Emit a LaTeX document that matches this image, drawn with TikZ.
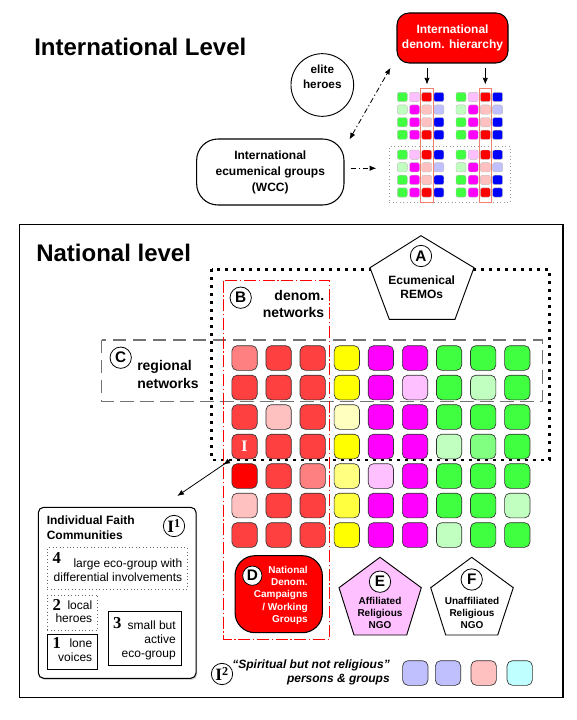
\documentclass[tikz,border=0pt]{standalone}
\usepackage{fontspec}
\setmainfont{Liberation Sans}
\newfontfamily\serifnum{Liberation Serif}
\usepackage{tikz}
\usetikzlibrary{positioning,arrows.meta,calc,shadows}
\usepackage{xcolor}
\definecolor{redA}{HTML}{FF4040}
\definecolor{redL}{HTML}{FF8080}
\definecolor{redP}{HTML}{FFC0C0}
\definecolor{redF}{HTML}{FF0000}
\definecolor{yelA}{HTML}{FFFF00}
\definecolor{yelM}{HTML}{FFFF40}
\definecolor{yelL}{HTML}{FFFF80}
\definecolor{yelP}{HTML}{FFFFC0}
\definecolor{magA}{HTML}{FF00FF}
\definecolor{magP}{HTML}{FFC0FF}
\definecolor{grnA}{HTML}{40FF40}
\definecolor{grnL}{HTML}{80FF80}
\definecolor{grnP}{HTML}{C0FFC0}
\definecolor{bluA}{HTML}{0000FF}
\definecolor{bluP}{HTML}{C0C0FF}
\definecolor{cyaP}{HTML}{C0FFFF}
\definecolor{salmon}{HTML}{F08070}

\begin{document}
\begin{tikzpicture}[x=0.75pt, y=-0.75pt, >=Latex,
    cell/.style={draw=black!80, line width=0.5pt, rounded corners=4pt, minimum width=19pt, minimum height=18.5pt, inner sep=0pt},
    mini/.style={draw=black!25, line width=0.3pt, rounded corners=1.5pt, minimum width=7.5pt, minimum height=7pt, inner sep=0pt},
    tag/.style={circle, draw, fill=white, line width=0.6pt, inner sep=0pt, minimum size=16pt, font=\bfseries\fontsize{11.5}{12}\selectfont},
    itag/.style={tag, font=\serifnum\bfseries\fontsize{13}{13}\selectfont},
    lbl/.style={font=\bfseries\fontsize{9}{10.8}\selectfont, align=center, inner sep=0pt},
    biglbl/.style={font=\bfseries\fontsize{10.5}{13}\selectfont, inner sep=0pt},
    bodytxt/.style={font=\fontsize{9}{10.5}\selectfont, align=right, anchor=east, inner sep=0pt},
    num/.style={font=\serifnum\bfseries\fontsize{12.5}{12.5}\selectfont, inner sep=0pt},
    heading/.style={font=\bfseries\fontsize{18}{20}\selectfont, anchor=base west, inner sep=0pt},
    dashdot/.style={dash pattern=on 4pt off 2pt on 1pt off 2pt},
    arr/.style={-{Latex[length=5pt,width=4pt]}, line width=0.6pt}]
  \useasboundingbox (0,0) rectangle (576,720);

  % international level
  \node[heading] (intlhead) at (34,56) {International Level};
  \node[circle, draw, line width=0.7pt, minimum size=47pt] (elite) at (322.3,85) {};
  \node[lbl, font=\bfseries\fontsize{8.8}{11.2}\selectfont] at (322.3,77) {elite\\heroes};
  \node[draw, fill=redF, rounded corners=9pt, line width=0.8pt, minimum width=83.25pt, minimum height=37.5pt,
        lbl, text=white, font=\bfseries\fontsize{9}{10.8}\selectfont] (intl) at (452.5,38) {International\\denom. hierarchy};
  \node[draw, rounded corners=16pt, line width=0.8pt, minimum width=110.5pt, minimum height=49.5pt,
        lbl, font=\bfseries\fontsize{9}{12}\selectfont] (wcc) at (270.3,172) {International\\ecumenical groups\\(WCC)};

  \node[draw=black!40, dotted, line width=0.6pt, minimum width=90.5pt, minimum height=41.7pt, inner sep=0pt] (wccgrid) at (449.7,174.5) {};
  \foreach \blk in {0,1}
    \foreach \half in {0,1}
      \foreach \rowcols [count=\r] in {{grnA,magP,redF,bluA},{grnP,magA,redP,bluP},{grnA,magA,redP,bluA},{grnA,magA,redF,bluA}}
        \foreach \col [count=\k] in \rowcols
          \node[mini, fill=\col] (m-\blk-\half-\r-\k) at ({402.3+12.2*(\k-1)+58.7*\blk}, {97+12.6*(\r-1)+57.7*\half}) {};
  \node[draw=salmon, line width=0.6pt, minimum width=9.5pt, minimum height=85.5pt, inner sep=0pt] (hier1) at (427,145.3) {};
  \node[draw=salmon, line width=0.6pt, minimum width=9.5pt, minimum height=85.5pt, inner sep=0pt] (hier2) at (485.3,145.3) {};

  \draw[arr] ([yshift=-3pt]intl.south -| hier1.north) -- ([yshift=2.5pt]hier1.north);
  \draw[arr] ([yshift=-3pt]intl.south -| hier2.north) -- ([yshift=2.5pt]hier2.north);
  \draw[dashdot, {Latex[length=5pt,width=4pt]}-{Latex[length=5pt,width=4pt]}, line width=0.6pt]
    ([xshift=3.75pt,yshift=-0.75pt]wcc.north east) -- ([xshift=-4.5pt,yshift=-3.2pt]intl.south west);
  \draw[dashdot, arr] ([xshift=4.5pt,yshift=2.8pt]wcc.east) -- ([xshift=-9.5pt,yshift=2.8pt]wcc.east -| wccgrid.west);

  % national level
  \draw[line width=0.9pt] (19.3,224.3) rectangle (563,697.7);
  \node[heading] (nathead) at (36,261.7) {National level};

  \draw[black!55, line width=1.1pt, dash pattern=on 10pt off 5pt] (101.7,340) rectangle (542.3,401.5);
  \draw[line width=2pt, dash pattern=on 2.2pt off 3.8pt] (211.7,269.3) rectangle (549.3,460);
  \draw[red, line width=0.6pt, dash pattern=on 9pt off 2pt on 1pt off 2pt] (223.3,280.7) rectangle (329.3,639);

  \foreach \rowcols [count=\r] in {
      {redL,redA,redA,yelA,magA,magA,grnA,grnA,grnA},
      {redA,redA,redA,yelA,magA,magP,grnA,grnP,grnA},
      {redA,redP,redA,yelP,magA,magA,grnA,grnA,grnA},
      {redA,redA,redA,yelA,magA,magA,grnP,grnL,grnA},
      {redF,redA,redL,yelL,magP,magA,grnA,grnA,grnA},
      {redP,redA,redA,yelM,magA,magA,grnA,grnA,grnP},
      {redA,redA,redA,yelA,magA,magA,grnP,grnA,grnA}}
    \foreach \col [count=\k] in \rowcols
      \node[cell, fill=\col] (n-\r-\k) at ({244.5+34.1*(\k-1)}, {358+29.5*(\r-1)}) {};
  \node[font=\serifnum\bfseries\fontsize{12}{12}\selectfont, text=white, inner sep=0pt] at (n-4-1) {I};

  \draw[fill=white, line width=0.7pt] (421,235.7) -- (474,267.7) -- (455,319.3) -- (389.3,319.3) -- (370,267.7) -- cycle;
  \node[tag] (tagA) at (421,256) {A};
  \node[lbl] (remo) at (421.7,287) {Ecumenical\\REMOs};

  \node[tag] (tagB) at (240.7,297.7) {B};
  \node[biglbl, align=right, anchor=east] (denomnet) at (324.5,303.7) {denom.\\networks};
  \node[tag] (tagC) at (120.7,357.7) {C};
  \node[biglbl, align=left, anchor=west] (regnet) at (137,374.5) {regional\\networks};

  \node[draw, fill=redF, rounded corners=15pt, line width=0.8pt, minimum width=65.5pt, minimum height=57.75pt] (dbox) at (278.7,594.2) {};
  \node[tag, minimum size=14.5pt] (tagD) at (252.3,575.7) {D};
  \node[font=\bfseries\fontsize{7.5}{9.2}\selectfont, text=white, align=right, anchor=east, inner sep=0pt]
    (dtxt) at (308,595.3) {National\\Denom.\\Campaigns\\/ Working\\Groups};

  \draw[fill=magP, line width=0.7pt] (380,557.3) -- (421.3,587.7) -- (406.7,635) -- (354,635) -- (339,587.7) -- cycle;
  \node[tag] (tagE) at (380,581.7) {E};
  \node[lbl, font=\bfseries\fontsize{7.5}{9}\selectfont] (etxt) at (380,613.2) {Affiliated\\Religious\\NGO};
  \draw[fill=white, line width=0.7pt] (471.7,557.3) -- (513.3,587.7) -- (497.7,635) -- (445.7,635) -- (430.7,587.7) -- cycle;
  \node[tag] (tagF) at (471.7,579.5) {F};
  \node[lbl, font=\bfseries\fontsize{7.5}{9}\selectfont] (ftxt) at (472,613.2) {Unaffiliated\\Religious\\NGO};

  % individual faith communities
  \node[draw, fill=white, rounded corners=4pt, line width=0.8pt, minimum width=118.3pt, minimum height=128.25pt,
        drop shadow={opacity=0.35, shadow xshift=0.8pt, shadow yshift=-1.2pt}] (ifc) at (117.2,592.8) {};
  \coordinate (ifcin) at (177.3,496);
  \draw[arr] (n-4-1.south west) -- (ifcin);
  \draw[arr] (n-4-1.south west) -- ($(n-4-1.south west)!0.15!(ifcin)$);
  \node[font=\bfseries\fontsize{9}{11}\selectfont, align=left, anchor=west, inner sep=0pt] (ifctitle) at (46.5,528) {Individual Faith\\Communities};
  \node[itag] (tagI1) at (174,526) {I\textsuperscript{1}};

  \node[draw=black!60, dotted, line width=0.6pt, minimum width=105pt, minimum height=31.2pt, inner sep=0pt] (grp4) at (117.3,568.5) {};
  \node[draw=black!60, dotted, line width=0.6pt, minimum width=37.8pt, minimum height=26.25pt, inner sep=0pt] (grp2) at (72.5,612.5) {};
  \node[draw, line width=0.7pt, minimum width=37.8pt, minimum height=26.25pt, inner sep=0pt] (grp1) at (72.5,651.5) {};
  \node[draw, line width=0.7pt, minimum width=55pt, minimum height=40pt, inner sep=0pt] (grp3) at (145,638.3) {};

  \node[num] at (56.7,558.3) {4};
  \node[bodytxt, font=\fontsize{9}{11.2}\selectfont] at (182.5,570.2) {large eco-group with\\differential involvements};
  \node[num] at (56.7,605) {2};
  \node[bodytxt, font=\fontsize{9}{10}\selectfont] at (92.5,611.7) {local\\heroes};
  \node[num] at (56.7,642.7) {1};
  \node[bodytxt, font=\fontsize{9}{10.5}\selectfont] at (92.5,650.3) {lone\\voices};
  \node[num] at (117.3,623.3) {3};
  \node[bodytxt, font=\fontsize{9}{10.5}\selectfont] at (176,640) {small but\\active\\eco-group};

  % spiritual but not religious
  \node[itag] (tagI2) at (222,674) {I\textsuperscript{2}};
  \node[font=\bfseries\itshape\fontsize{9}{10.7}\selectfont, align=right, anchor=east, inner sep=0pt] (sbnr) at (390,672.2)
    {“Spiritual but not religious”\\persons \& groups};
  \foreach \c/\x [count=\k] in {bluP/415.3, bluP/448, redP/483.7, cyaP/519.7}
    \node[cell, fill=\c] (s-\k) at (\x,673) {};
\end{tikzpicture}
\end{document}
